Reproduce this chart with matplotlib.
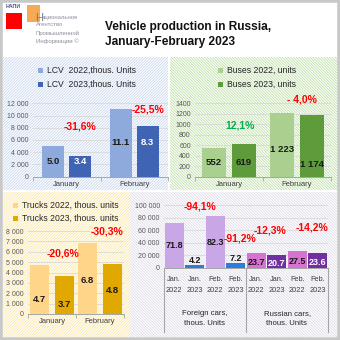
import matplotlib
matplotlib.use("Agg")
import matplotlib.pyplot as plt
from matplotlib.patches import Rectangle
from matplotlib.ticker import FuncFormatter, MultipleLocator
import numpy as np

W, H = 340, 340

months = ["January", "February"]

lcv_2022 = [5.0, 11.1]       # thous. units
lcv_2023 = [3.4, 8.3]
lcv_change = ["-31,6%", "-25,5%"]

bus_2022 = [552, 1223]       # units
bus_2023 = [619, 1174]
bus_change = ["12,1%", "- 4,0%"]

truck_2022 = [4.7, 6.8]      # thous. units
truck_2023 = [3.7, 4.8]
truck_change = ["-20,6%", "-30,3%"]

car_ticks = ["Jan.\n2022", "Jan.\n2023", "Feb.\n2022", "Feb.\n2023"] * 2
car_groups = ["Foreign cars,\nthous. Units", "Russian cars,\nthous. Units"]
foreign_cars = [71.8, 4.2, 82.3, 7.2]   # thous. units
russian_cars = [23.7, 20.7, 27.5, 23.6]
foreign_change = ["-94,1%", "-91,2%"]
russian_change = ["-12,3%", "-14,2%"]

plt.rcParams["font.family"] = ["Liberation Sans", "DejaVu Sans"]
plt.rcParams["hatch.linewidth"] = 0.6

RED = "#ff0000"
GREEN = "#00b050"
GRID = "#d9d9d9"
TICK = "#595959"


def box(x0, y0, x1, y1):
    return [x0 / W, 1 - y1 / H, (x1 - x0) / W, (y1 - y0) / H]


def ftext(x, y, s, **kw):
    fig.text(x / W, 1 - y / H, s, **kw)


def panel(x0, y0, x1, y1, color, hatch):
    fig.patches.append(Rectangle((x0 / W, 1 - y1 / H), (x1 - x0) / W, (y1 - y0) / H,
                                 transform=fig.transFigure, facecolor="white",
                                 edgecolor=color, hatch=hatch, linewidth=0, zorder=-1))


def legend_item(x, y, color, label, size=6.2):
    fig.patches.append(Rectangle((x / W, 1 - (y + 2.5) / H), 5 / W, 5 / H,
                                 transform=fig.transFigure, facecolor=color,
                                 edgecolor="none", zorder=2))
    ftext(x + 9, y, label, fontsize=size, color="#262626", va="center", ha="left")


def space_fmt(v, pos):
    return f"{v:,.0f}".replace(",", " ")


def style_axes(ax, ymax, step, fmt=True):
    ax.set_facecolor("none")
    ax.set_ylim(0, ymax)
    ax.yaxis.set_major_locator(MultipleLocator(step))
    if fmt:
        ax.yaxis.set_major_formatter(FuncFormatter(space_fmt))
    ax.grid(axis="y", color=GRID, linewidth=0.6)
    ax.set_axisbelow(True)
    for s in ["top", "right", "left"]:
        ax.spines[s].set_visible(False)
    ax.spines["bottom"].set_color("#a6a6a6")
    ax.spines["bottom"].set_linewidth(0.7)
    ax.tick_params(axis="y", length=0, labelsize=5, labelcolor=TICK, pad=3)
    ax.tick_params(axis="x", length=0, labelsize=5.5, labelcolor="#404040", pad=3)


def pair_chart(rect, v22, v23, c22, c23, ymax, step, scale, width, off,
               label_frac, label_colors, changes, change_pos, change_colors, fmt=True,
               value_fmt="{:.1f}"):
    ax = fig.add_axes(rect)
    style_axes(ax, ymax, step, fmt)
    x = np.arange(len(months))
    a = np.array(v22) * scale
    b = np.array(v23) * scale
    ax.bar(x - off, a, width, color=c22, zorder=2)
    ax.bar(x + off, b, width, color=c23, zorder=2)
    ax.set_xlim(-0.5, len(months) - 0.5)
    ax.set_xticks(x)
    ax.set_xticklabels(months)
    ax.set_xticks([-0.5, 0.5, 1.5], minor=True)
    ax.tick_params(axis="x", which="minor", length=3, color="#a6a6a6")
    for i in range(len(months)):
        for xx, v, fr, col in [(x[i] - off, a[i], label_frac[i][0], label_colors[0]),
                               (x[i] + off, b[i], label_frac[i][1], label_colors[1])]:
            s = value_fmt(v / scale) if callable(value_fmt) else value_fmt.format(v / scale)
            ax.text(xx, v * fr, s, ha="center", va="center", fontsize=6.8,
                    fontweight="bold", color=col, zorder=3)
        ax.text(change_pos[i][0], change_pos[i][1] * ymax, changes[i], ha="center", va="center",
                fontsize=7.5, fontweight="bold", color=change_colors[i], clip_on=False, zorder=3)
    return ax


fig = plt.figure(figsize=(W / 100, H / 100), dpi=100)

# outer frame
fig.patches.append(Rectangle((0, 0), 1, 1, transform=fig.transFigure, facecolor="white",
                             edgecolor="#c8c8c8", linewidth=4, zorder=-2))

# panels
panel(3, 57, 168, 190, "#c9d7ee", "/" * 12)
panel(170, 57, 337, 190, "#bfe0a8", "\\" * 12)
panel(3, 192, 130, 337, "#fbe7a6", "/" * 12)
panel(130, 192, 337, 337, "#dedce8", "\\" * 12)

# logo
fig.patches.append(Rectangle(box(6, 13, 22, 29)[:2], 16 / W, 16 / H, transform=fig.transFigure,
                             facecolor="#ff0000", edgecolor="none", zorder=2))
fig.patches.append(Rectangle(box(27, 5, 40, 22)[:2], 13 / W, 17 / H, transform=fig.transFigure,
                             facecolor="#f59a3a", edgecolor="none", alpha=0.85, zorder=2))
ftext(6, 7, "НАПИ", fontsize=3.8, color="#4a5480", va="center", ha="left", fontweight="bold")
ftext(35, 18, "Н", fontsize=8, color="#7a7a8a", va="center", ha="left")
ftext(42, 17, "ациональное", fontsize=4.3, color="#8e8ea0", va="center", ha="left")
ftext(36, 25, "Агентство", fontsize=4.3, color="#8e8ea0", va="center", ha="left")
ftext(36, 33, "Промышленной", fontsize=4.3, color="#8e8ea0", va="center", ha="left")
ftext(36, 41, "Информации ©", fontsize=4.3, color="#8e8ea0", va="center", ha="left")

# title
ftext(105, 27, "Vehicle production in Russia,", fontsize=8.6, fontweight="bold",
      color="#111111", va="center", ha="left")
ftext(105, 42, "January-February 2023", fontsize=8.6, fontweight="bold",
      color="#111111", va="center", ha="left")

# LCV
legend_item(38, 70, "#8ea9db", "LCV  2022,thous. Units")
legend_item(38, 84, "#3f64b4", "LCV  2023,thous. Units")
pair_chart(box(33, 103.3, 168, 176.7), lcv_2022, lcv_2023, "#8ea9db", "#3f64b4",
           12000, 2000, 1000, 0.33, 0.2,
           [(0.5, 0.74), (0.5, 0.67)], ["#1a1a1a", "white"],
           lcv_change, [(0.2, 0.69), (1.2, 0.91)], [RED, RED])

# Buses
legend_item(218, 70, "#a9d08e", "Buses 2022, units")
legend_item(218, 84, "#5d9b3b", "Buses 2023, units")
pair_chart(box(195, 103.3, 331, 176.7), bus_2022, bus_2023, "#a9d08e", "#5d9b3b",
           1400, 200, 1, 0.35, 0.22,
           [(0.48, 0.43), (0.43, 0.2)], ["#1a1a1a", "#1a1a1a"],
           bus_change, [(0.16, 0.70), (1.07, 1.05)], [GREEN, RED],
           fmt=False, value_fmt=lambda v: f"{v:,.0f}".replace(",", " "))

# Trucks
legend_item(13, 205, "#ffd58a", "Trucks 2022, thous. units")
legend_item(13, 218, "#e0a800", "Trucks 2023, thous. units")
pair_chart(box(28, 231, 124, 314), truck_2022, truck_2023, "#ffd58a", "#e0a800",
           8000, 1000, 1000, 0.4, 0.26,
           [(0.29, 0.24), (0.48, 0.48)], ["#1a1a1a", "#1a1a1a"],
           truck_change, [(0.23, 0.73), (1.15, 0.99)], [RED, RED])

# Cars
ax = fig.add_axes(box(164, 205, 328, 268))
style_axes(ax, 100000, 20000)
xc = np.arange(len(car_ticks))
car_vals = np.array(foreign_cars + russian_cars) * 1000
car_colors = ["#c9a7e6", "#2b7ddb", "#c9a7e6", "#2b7ddb",
              "#d672d0", "#7030a0", "#d672d0", "#7030a0"]
ax.bar(xc, car_vals, 0.92, color=car_colors, zorder=2)
ax.set_xlim(-0.5, 7.5)
ax.set_xticks(xc)
ax.set_xticklabels(car_ticks, fontsize=5.3, linespacing=1.75)
ax.tick_params(axis="x", pad=6)
txt_colors = ["#1a1a1a", "#1a1a1a", "#1a1a1a", "#1a1a1a",
              "#1a1a1a", "white", "#1a1a1a", "white"]
for i, v in enumerate(car_vals):
    if v > 50000:
        y = v * 0.5
    elif v < 10000:
        y = v + 7500
    else:
        y = v * 0.38
    ax.text(i, y, f"{v / 1000:.1f}", ha="center", va="center", fontsize=6.5,
            fontweight="bold", color=txt_colors[i], zorder=3)
for i, s in enumerate(car_groups):
    ax.text(1.5 + 4 * i, -0.8, s, transform=ax.get_xaxis_transform(), ha="center",
            va="center", fontsize=5.6, color="#262626", linespacing=1.6)
for xs in [-0.5, 3.5, 7.5]:
    ax.plot([xs, xs], [0, -1.02], transform=ax.get_xaxis_transform(), color="#a6a6a6",
            linewidth=0.8, clip_on=False)
for (xp, yp), s in zip([(1.25, 98000), (3.2, 47600), (4.66, 60000), (6.73, 65000)],
                       foreign_change + russian_change):
    ax.text(xp, yp, s, ha="center", va="center", fontsize=7.5, fontweight="bold",
            color=RED, clip_on=False, zorder=3)

fig.savefig("out.png", dpi=100)
